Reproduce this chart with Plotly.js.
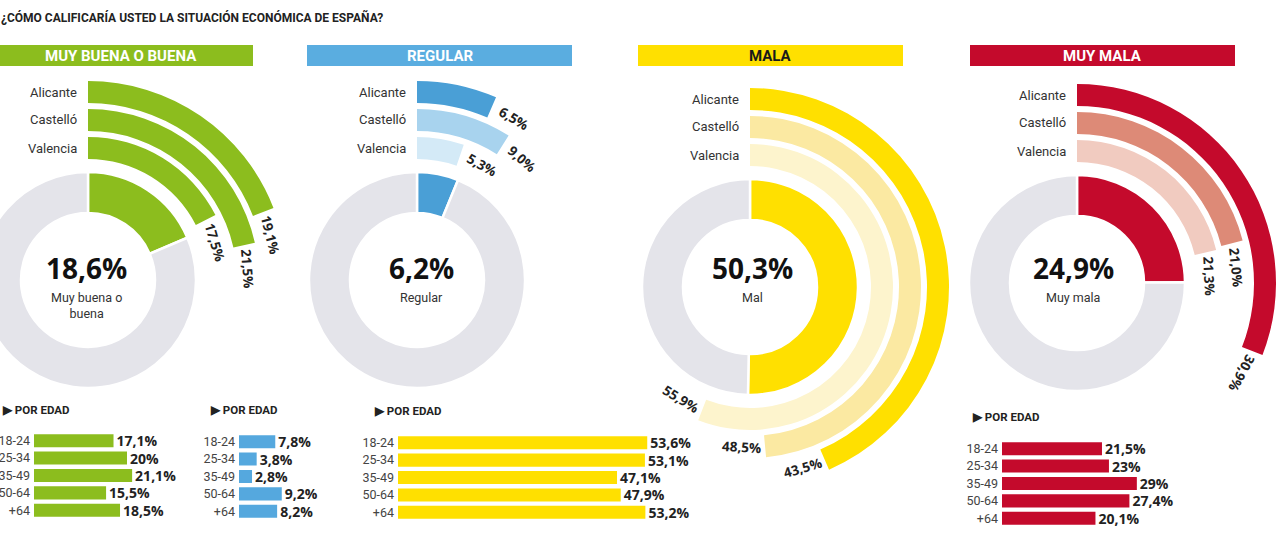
<!DOCTYPE html>
<html>
<head>
<meta charset="utf-8">
<script src="https://cdn.plot.ly/plotly-3.0.1.min.js"></script>
<style>
html,body{margin:0;padding:0;overflow:hidden;background:#fff;width:1280px;height:548px}
#chart{position:absolute;left:-130px;top:0;width:1540px;height:548px}
</style>
</head>
<body>
<div id="chart"></div>
<script>
// ---------------- DATA ----------------
const chartTitle = '¿CÓMO CALIFICARÍA USTED LA SITUACIÓN ECONÓMICA DE ESPAÑA?';
const categories = ['MUY BUENA O BUENA', 'REGULAR', 'MALA', 'MUY MALA'];
const centerLabels = ['Muy buena o<br>buena', 'Regular', 'Mal', 'Muy mala'];
const regions = ['Alicante', 'Castelló', 'Valencia'];
const totals   = [18.6, 6.2, 50.3, 24.9];
const alicante = [19.1, 6.5, 43.5, 30.9];
const castello = [21.5, 9.0, 48.5, 21.0];
const valencia = [17.5, 5.3, 55.9, 21.3];
const ageGroups = ['18-24', '25-34', '35-49', '50-64', '+64'];
const ageMuyBuena = [17.1, 20, 21.1, 15.5, 18.5];
const ageRegular  = [7.8, 3.8, 2.8, 9.2, 8.2];
const ageMala     = [53.6, 53.1, 47.1, 47.9, 53.2];
const ageMuyMala  = [21.5, 23, 29, 27.4, 20.1];
const porEdad = '▶ POR EDAD';

// ---------------- STYLE / GEOMETRY ----------------
const OX = 130, W = 1280 + 2 * OX, H = 548;
const fx = px => (px + OX) / W;
const fy = py => 1 - py / H;
const DEG_PER_PCT = 3.6;
const R_MAX = 200;
const DONUT_BASE = 67, DONUT_THICK = 41;
const ARC_BASE = [177, 149, 121];
const ARC_THICK = 22;
const PX_PER_PCT = 4.65;
const GRAY = '#e4e4ea';
const FONT = 'Roboto, "Open Sans", sans-serif';
const NUMFONT = '"Open Sans", Roboto, sans-serif';
const TXT = '#222';

const regionValues = [alicante, castello, valencia];
const ageValues = [ageMuyBuena, ageRegular, ageMala, ageMuyMala];

const panels = [
  {cx: 88,   cy: 280, main: '#8cbd1e', arcs: ['#8cbd1e', '#8cbd1e', '#8cbd1e'], bar: '#8cbd1e', headFill: '#8cbd1e',
   head: [-12, 253], headText: '#ffffff', porEdad: [0, 410], bx0: 34,  by0: 432, by1: 519, bmax: 30, numX: 86},
  {cx: 417,  cy: 280, main: '#4a9fd6', arcs: ['#4a9fd6', '#a8d3ee', '#d4eaf7'], bar: '#55a8de', headFill: '#5aade0',
   head: [307, 572], headText: '#ffffff', porEdad: [208, 410], bx0: 239, by0: 433, by1: 520, bmax: 12, numX: 421},
  {cx: 750,  cy: 287, main: '#ffe000', arcs: ['#ffe000', '#fbe9a2', '#fdf4cd'], bar: '#ffe000', headFill: '#ffe000',
   head: [638, 903], headText: '#1a1a1a', porEdad: [372, 411], bx0: 398, by0: 434, by1: 521, bmax: 60, numX: 752},
  {cx: 1077, cy: 283, main: '#c40a2c', arcs: ['#c40a2c', '#dd8a77', '#f1cbc0'], bar: '#c40a2c', headFill: '#c40a2c',
   head: [970, 1235], headText: '#ffffff', porEdad: [970, 417], bx0: 1002, by0: 440, by1: 527, bmax: 32, numX: 1073}
];

const fmt1 = v => v.toFixed(1).replace('.', ',') + '%';
const fmtRaw = v => String(v).replace('.', ',') + '%';

const traces = [];
const layout = {
  width: W, height: H,
  margin: {l: 0, r: 0, t: 0, b: 0},
  paper_bgcolor: '#ffffff',
  plot_bgcolor: 'rgba(0,0,0,0)',
  showlegend: false,
  bargap: 0.25,
  title: {
    text: '<b>' + chartTitle + '</b>',
    x: fx(1), xref: 'paper', xanchor: 'left',
    y: 1 - 18 / H, yref: 'container', yanchor: 'middle',
    font: {family: FONT, size: 12, color: TXT}
  },
  shapes: [],
  annotations: []
};

panels.forEach((p, i) => {
  const pk = i === 0 ? 'polar' : 'polar' + (i + 1);
  const a = totals[i] * DEG_PER_PCT;

  layout[pk] = {
    domain: {x: [fx(p.cx - R_MAX), fx(p.cx + R_MAX)], y: [fy(p.cy + R_MAX), fy(p.cy - R_MAX)]},
    bgcolor: 'rgba(0,0,0,0)',
    radialaxis: {visible: false, range: [0, R_MAX], showgrid: false},
    angularaxis: {visible: false, rotation: 90, direction: 'clockwise', showgrid: false}
  };

  // donut: total + remainder
  traces.push({
    type: 'barpolar', subplot: pk,
    theta: [a / 2, (a + 360) / 2],
    width: [a, 360 - a],
    base: [DONUT_BASE, DONUT_BASE],
    r: [DONUT_THICK, DONUT_THICK],
    marker: {color: [p.main, GRAY], line: {color: '#ffffff', width: 2.5}},
    hoverinfo: 'skip'
  });

  // regional arcs
  const rv = regionValues.map(arr => arr[i]);
  traces.push({
    type: 'barpolar', subplot: pk,
    theta: rv.map(v => v * DEG_PER_PCT / 2),
    width: rv.map(v => v * DEG_PER_PCT),
    base: ARC_BASE,
    r: ARC_BASE.map(() => ARC_THICK),
    marker: {color: p.arcs, line: {color: '#ffffff', width: 0}},
    hoverinfo: 'skip'
  });

  // arc region names and values
  rv.forEach((v, j) => {
    const rmid = ARC_BASE[j] + ARC_THICK / 2;
    layout.annotations.push({
      xref: 'paper', yref: 'paper', x: fx(p.cx - 9), y: fy(p.cy - rmid),
      xanchor: 'right', yanchor: 'middle', showarrow: false,
      text: regions[j], font: {family: FONT, size: 13, color: '#333'}
    });
    const th = v * DEG_PER_PCT;
    const phi = th + (24 / rmid) * 180 / Math.PI;
    const rad = phi * Math.PI / 180;
    layout.annotations.push({
      xref: 'paper', yref: 'paper',
      x: fx(p.cx + rmid * Math.sin(rad)), y: fy(p.cy - rmid * Math.cos(rad)),
      xanchor: 'center', yanchor: 'middle', showarrow: false,
      textangle: phi > 140 ? phi - 180 : phi,
      text: '<b>' + fmt1(v) + '</b>', font: {family: NUMFONT, size: 13.5, color: TXT}
    });
  });

  // center texts
  layout.annotations.push({
    xref: 'paper', yref: 'paper', x: fx(p.numX), y: fy(268),
    xanchor: 'center', yanchor: 'middle', showarrow: false,
    text: '<b>' + fmt1(totals[i]) + '</b>', font: {family: NUMFONT, size: 28, color: '#111', weight: 800}
  });
  layout.annotations.push({
    xref: 'paper', yref: 'paper', x: fx(p.numX), y: fy(288),
    xanchor: 'center', yanchor: 'top', showarrow: false,
    text: centerLabels[i], font: {family: FONT, size: 12.5, color: '#333'}
  });

  // header band
  layout.shapes.push({
    type: 'rect', xref: 'paper', yref: 'paper',
    x0: fx(p.head[0]), x1: fx(p.head[1]), y0: fy(66), y1: fy(45),
    fillcolor: p.headFill, line: {width: 0}, layer: 'below'
  });
  layout.annotations.push({
    xref: 'paper', yref: 'paper', x: fx((p.head[0] + p.head[1]) / 2), y: fy(56),
    xanchor: 'center', yanchor: 'middle', showarrow: false,
    text: '<b>' + categories[i] + '</b>', font: {family: FONT, size: 15, color: p.headText}
  });

  // por edad label
  layout.annotations.push({
    xref: 'paper', yref: 'paper', x: fx(p.porEdad[0]), y: fy(p.porEdad[1]),
    xanchor: 'left', yanchor: 'middle', showarrow: false,
    text: '<b>' + porEdad + '</b>', font: {family: FONT, size: 11.5, color: TXT}
  });

  // age bars
  const xk = i === 0 ? 'xaxis' : 'xaxis' + (i + 1);
  const yk = i === 0 ? 'yaxis' : 'yaxis' + (i + 1);
  const xr = i === 0 ? 'x' : 'x' + (i + 1);
  const yr = i === 0 ? 'y' : 'y' + (i + 1);
  layout[xk] = {
    domain: [fx(p.bx0), fx(p.bx0 + p.bmax * PX_PER_PCT)], range: [0, p.bmax],
    visible: false, anchor: yr, fixedrange: true
  };
  layout[yk] = {
    domain: [fy(p.by1), fy(p.by0)], type: 'category', autorange: 'reversed',
    anchor: xr, showgrid: false, zeroline: false, showline: false, ticks: '',
    ticklabelstandoff: 3,
    tickfont: {family: FONT, size: 12.5, color: '#444'}, fixedrange: true
  };
  traces.push({
    type: 'bar', orientation: 'h', xaxis: xr, yaxis: yr,
    y: ageGroups, x: ageValues[i],
    marker: {color: p.bar},
    text: ageValues[i].map(v => '<b>' + fmtRaw(v) + '</b>'),
    textposition: 'outside', cliponaxis: false, constraintext: 'none',
    textfont: {family: NUMFONT, size: 14, color: TXT},
    hoverinfo: 'skip'
  });
});

Plotly.newPlot('chart', traces, layout, {displayModeBar: false, staticPlot: true});
</script>
</body>
</html>
